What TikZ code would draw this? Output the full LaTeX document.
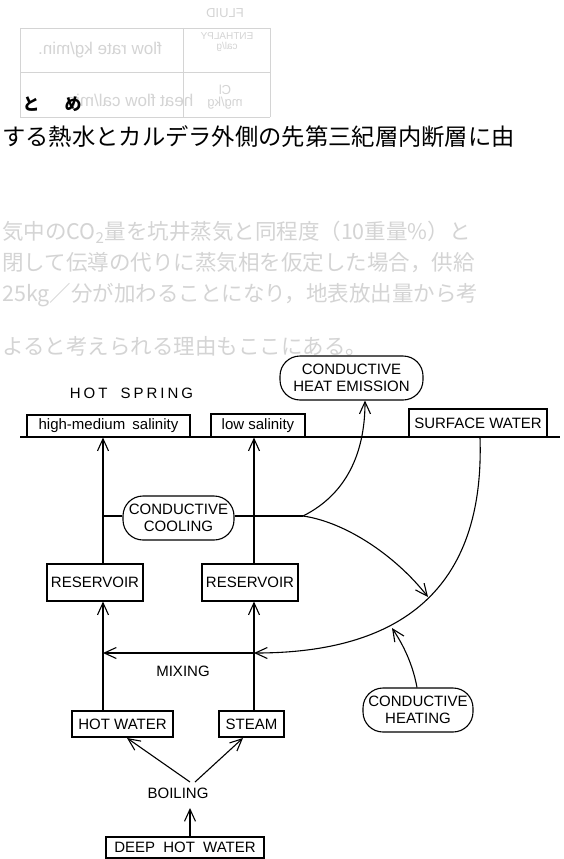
\documentclass[tikz,border=0pt]{standalone}
\usepackage{fontspec}
\setmainfont{Liberation Sans}
\newfontfamily\jp{Noto Sans CJK JP}
\usetikzlibrary{arrows.meta}
\definecolor{faint}{gray}{0.83}
\tikzset{
  lbl/.style={font=\fontsize{15}{17}\selectfont, inner sep=0pt, align=center},
  boxn/.style={draw, line width=1.1pt, inner sep=0pt, font=\fontsize{15}{17}\selectfont, align=center},
  roundn/.style={boxn, rounded corners=20pt},
  conn/.style={line width=1.1pt},
  arr/.style={conn, -{Straight Barb[length=12pt,width=11pt,line width=1.1pt]}},
  ghost/.style={text=faint, inner sep=0pt, anchor=west},
}
\begin{document}
\begin{tikzpicture}[x=1pt,y=-1pt]
\useasboundingbox (0,0) rectangle (563,859);
\fill[white] (0,0) rectangle (563,859);
% faint show-through table (mirrored)
\draw[faint, line width=0.8pt] (20,28) -- (270,28) (20,72) -- (270,72) (20,117) -- (270,117)
  (20,28) -- (20,117) (183,28) -- (183,117) (270,28) -- (270,117);
\node[ghost, anchor=center] (g1) at (225,13) {\fontsize{13}{13}\selectfont\reflectbox{FLUID}};
\node[ghost, anchor=center] (g2) at (227,42) {\fontsize{10}{11}\selectfont\reflectbox{\shortstack{ENTHALPY\\cal/g}}};
\node[ghost, anchor=center] (g3) at (100,50) {\fontsize{17}{17}\selectfont\reflectbox{flow rate kg/min.}};
\node[ghost, anchor=center] (g4) at (225,97) {\fontsize{13}{14}\selectfont\reflectbox{\shortstack{Cl\\mg/kg}}};
\node[ghost, anchor=center] (g5) at (130,100) {\fontsize{17}{17}\selectfont\reflectbox{heat flow cal/min}};
% faint paragraph
\node[ghost] (p1) at (2,232) {\jp\fontsize{21.5}{22}\selectfont 気中のCO\textsubscript{2}量を坑井蒸気と同程度（10重量\%）と};
\node[ghost] (p2) at (2,263) {\jp\fontsize{21.5}{22}\selectfont 閉して伝導の代りに蒸気相を仮定した場合，供給};
\node[ghost] (p3) at (2,295) {\jp\fontsize{21.5}{22}\selectfont 25kg／分が加わることになり，地表放出量から考};
\node[ghost] (p4) at (2,346) {\jp\fontsize{21.5}{22}\selectfont よると考えられる理由もここにある。};
% printed text
\node[inner sep=0pt] (to) at (31,104) {\jp\bfseries\fontsize{17}{17}\selectfont と};
\node[inner sep=0pt] (me) at (73,104) {\jp\bfseries\fontsize{17}{17}\selectfont め};
\node[inner sep=0pt, anchor=west] (jline) at (2,137) {\jp\fontsize{23.3}{24}\selectfont する熱水とカルデラ外側の先第三紀層内断層に由};
% ground line
\coordinate (gl) at (20,437);
\coordinate (gr) at (560,437);
\draw[conn] (gl) -- (gr);
% top nodes
\node[roundn, fill=white, minimum width=143pt, minimum height=44pt] (che) at (351.5,378) {CONDUCTIVE\\HEAT EMISSION};
\node[lbl] (hs) at (131.5,393) {\addfontfeature{LetterSpace=20}HOT\hspace{6pt} SPRING};
\node[boxn, minimum width=163pt, minimum height=22pt] (hms) at (108.5,426) {high-medium\hspace{3pt} salinity};
\node[boxn, minimum width=94pt, minimum height=23pt] (ls) at (258,425.5) {low salinity};
\node[boxn, minimum width=138pt, minimum height=28pt] (sw) at (478,423) {SURFACE WATER};
% middle
\node[roundn, minimum width=111pt, minimum height=44pt] (cc) at (178.5,518) {CONDUCTIVE\\COOLING};
\node[boxn, minimum width=96pt, minimum height=37pt] (r1) at (95,582.5) {RESERVOIR};
\node[boxn, minimum width=96pt, minimum height=37pt] (r2) at (250,582.5) {RESERVOIR};
\node[roundn, minimum width=110pt, minimum height=44pt] (ch) at (418,710) {CONDUCTIVE\\HEATING};
\node[lbl] (mix) at (183,671) {MIXING};
\node[boxn, minimum width=101pt, minimum height=26pt] (hw) at (122.5,724) {HOT WATER};
\node[boxn, minimum width=65pt, minimum height=26pt] (st) at (251.5,724) {STEAM};
\node[lbl] (boil) at (178,793) {BOILING};
\node[boxn, minimum width=158pt, minimum height=21pt] (dhw) at (185,847.5) {DEEP\hspace{4pt} HOT\hspace{4pt} WATER};
% coordinates
\coordinate (b) at (303,516);
\coordinate (m2) at (254,653);
\coordinate (m1) at (103,653);
\coordinate (cu) at (103,516);
% connectors
\draw[arr] (r1.north -| m1) -- (hms.south -| m1);
\draw[arr] (r2.north -| m2) -- (ls.south -| m2);
\draw[conn] (cu) -- (cc.west |- cu);
\draw[conn] (cc.east |- b) -- (b);
\draw[arr] (b) .. controls (345,495) and (365,455) .. (che.south -| 365,0);
\draw[arr] (b) .. controls (345,522) and (395,555) .. (428,597);
\draw[arr] ([xshift=2pt]sw.south) .. controls (485,590) and (400,653) .. (m2);
\draw[arr] (m2) -- (m1);
\draw[arr] (ch.north -| 417,0) .. controls (412,660) and (400,640) .. (392,628);
\draw[arr] (hw.north -| m1) -- (r1.south -| m1);
\draw[arr] (st.north -| m2) -- (r2.south -| m2);
\draw[arr] (190,782) -- (127,738);
\draw[arr] (195,782) -- (243,738);
\draw[arr] (dhw.north -| 190,0) -- (190,808);
\end{tikzpicture}
\end{document}
